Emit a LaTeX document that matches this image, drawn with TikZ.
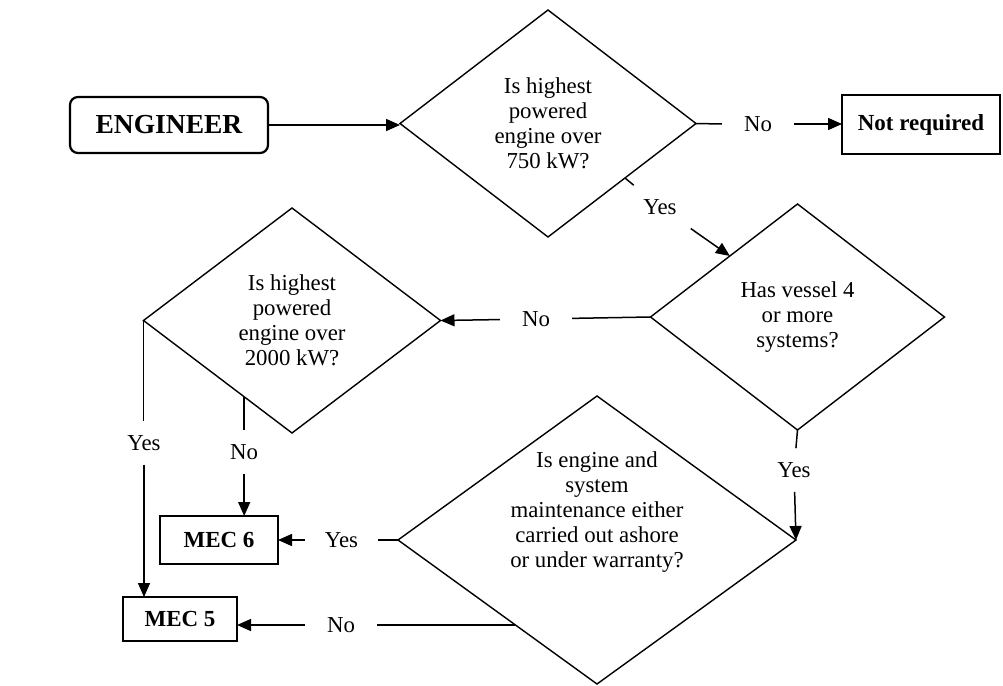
\documentclass[tikz,border=0pt]{standalone}
\usepackage{fontspec}
\setmainfont{Liberation Serif}
\usetikzlibrary{shapes.geometric,arrows.meta,calc}
\begin{document}
\begin{tikzpicture}[x=1pt,y=-1pt,
  txt/.style={font=\fontsize{22.8}{25}\selectfont},
  dec/.style={diamond, draw, line width=1.4pt, inner sep=0pt, outer sep=0pt, align=center, txt},
  box/.style={rectangle, draw, line width=2.2pt, inner sep=0pt, outer sep=0pt, font=\fontsize{23}{25}\selectfont\bfseries},
  lbl/.style={txt, inner xsep=22pt, inner ysep=2pt},
  vlbl/.style={txt, inner xsep=2pt, inner ysep=14pt},
  dlbl/.style={txt, inner xsep=14pt, inner ysep=14pt},
  conn/.style={line width=1.5pt},
  arr/.style={conn, -{Triangle[length=14pt,width=12pt]}}]
\useasboundingbox (0,0) rectangle (1003,685);

% boxes
\node[box, rounded corners=8pt, minimum width=198pt, minimum height=56pt, font=\fontsize{27.5}{30}\selectfont\bfseries] (eng) at (169,125) {ENGINEER};
\node[box, minimum width=158pt, minimum height=59pt] (nr) at (921,124.5) {Not required};
\node[box, minimum width=118pt, minimum height=48pt] (mec6) at (219,540) {MEC 6};
\node[box, minimum width=114pt, minimum height=44pt] (mec5) at (180,619) {MEC 5};

% decisions
\node[dec, minimum width=296pt, minimum height=227pt] (d1) at (548,123.5) {Is highest\\powered\\engine over\\750 kW?};
\node[dec, minimum width=294pt, minimum height=226pt] (d2) at (797.5,317) {Has vessel 4\\or more\\systems?};
\node[dec, minimum width=297pt, minimum height=225pt] (d3) at (292,320.5) {Is highest\\powered\\engine over\\2000 kW?};
\node[dec, minimum width=398pt, minimum height=288pt] (d4) at (597,540) {};
\node[txt, align=center] (d4t) at (597,512) {Is engine and\\system\\maintenance either\\carried out ashore\\or under warranty?};

% labels
\node[lbl] (no1) at (758,124) {No};
\node[dlbl] (yes1) at (660,207) {Yes};
\node[lbl] (no2) at (536,319) {No};
\node[vlbl] (yes3) at (144,443) {Yes};
\node[vlbl] (no3) at (244,452) {No};
\node[vlbl] (yes2) at (794,470) {Yes};
\node[lbl, inner xsep=20pt] (yes4) at (341.5,540) {Yes};
\node[lbl] (no4) at (341,625) {No};

% coordinates on diamond edges
\coordinate (p1) at ($(d1.east)!0.48!(d1.south)$);
\coordinate (p2) at ($(d2.west)!0.54!(d2.north)$);
\coordinate (p3) at ($(d3.west)!0.678!(d3.south)$);
\coordinate (p4) at ($(d4.west)!0.59!(d4.south)$);

% connectors
\draw[arr] (eng.east) -- (eng.east -| d1.west);
\draw[conn] (d1.east) -- (no1.west);
\draw[arr] (no1.east) -- (no1.east -| nr.west);
\draw[conn] (p1) -- (yes1);
\draw[arr] (yes1) -- (p2);
\draw[conn] (d2.west) -- (no2);
\draw[arr] (no2) -- (d3.east);
\draw[conn] (d3.west) -- (d3.west |- yes3.north);
\draw[arr] (yes3.south) -- (yes3.south |- mec5.north);
\draw[conn] (p3) -- (p3 |- no3.north);
\draw[arr] (p3 |- no3.south) -- (p3 |- mec6.north);
\draw[conn] (d2.south) -- (yes2);
\draw[arr] (yes2) -- (d4.east);
\draw[conn] (d4.west) -- (yes4.east);
\draw[arr] (yes4.west) -- (yes4.west -| mec6.east);
\draw[conn] (p4) -- (p4 -| no4.east);
\draw[arr] (no4.west) -- (no4.west -| mec5.east);
\end{tikzpicture}
\end{document}
